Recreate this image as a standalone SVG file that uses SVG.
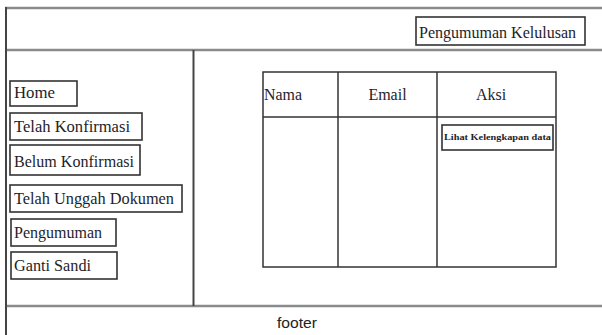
<svg xmlns="http://www.w3.org/2000/svg" width="602" height="335" viewBox="0 0 602 335">
  <style>
    .rule { stroke: #8a8a8a; stroke-width: 2.5; fill: none; }
    .edge { stroke: #444; stroke-width: 2; fill: none; }
    .btn { fill: #fff; stroke: #333; stroke-width: 1.6; }
    .grid { stroke: #333; stroke-width: 1.5; fill: none; }
    .lbl { font-family: "Liberation Serif", "Times New Roman", serif; font-size: 16px; fill: #1e1e2a; }
    .cap { font-family: "Liberation Serif", "Times New Roman", serif; font-size: 16px; fill: #1e1e2a; text-anchor: middle; }
    .tiny { font-family: "Liberation Serif", "Times New Roman", serif; font-size: 9px; font-weight: bold; fill: #1e1e2a; }
    .foot { font-family: "Liberation Sans", Arial, sans-serif; font-size: 14px; fill: #222; }
  </style>
  <rect width="602" height="335" fill="#fff"/>

  <!-- page frame: header, sidebar and footer rules -->
  <g id="layout">
    <line class="rule" x1="5" y1="8" x2="602" y2="8"/>
    <line class="rule" x1="5" y1="50" x2="602" y2="50"/>
    <line class="rule" x1="5" y1="306" x2="602" y2="306"/>
    <line class="edge" x1="6" y1="7" x2="6" y2="335"/>
    <line class="edge" x1="193.5" y1="50" x2="193.5" y2="306"/>
  </g>

  <g id="connectors"></g>

  <!-- header -->
  <g id="header-link">
    <rect class="btn" x="416" y="17" width="169" height="28"/>
    <text class="lbl" x="419" y="38" textLength="157" lengthAdjust="spacingAndGlyphs">Pengumuman Kelulusan</text>
  </g>

  <!-- sidebar menu -->
  <g id="menu-home">
    <rect class="btn" x="10" y="81" width="67" height="25"/>
    <text class="lbl" x="14" y="98" textLength="41" lengthAdjust="spacingAndGlyphs">Home</text>
  </g>
  <g id="menu-telah-konfirmasi">
    <rect class="btn" x="10" y="113" width="132" height="27"/>
    <text class="lbl" x="14" y="132" textLength="116" lengthAdjust="spacingAndGlyphs">Telah Konfirmasi</text>
  </g>
  <g id="menu-belum-konfirmasi">
    <rect class="btn" x="10" y="145" width="130" height="30"/>
    <text class="lbl" x="14" y="167" textLength="120" lengthAdjust="spacingAndGlyphs">Belum Konfirmasi</text>
  </g>
  <g id="menu-telah-unggah">
    <rect class="btn" x="10" y="185" width="172" height="27"/>
    <text class="lbl" x="14" y="204" textLength="160" lengthAdjust="spacingAndGlyphs">Telah Unggah Dokumen</text>
  </g>
  <g id="menu-pengumuman">
    <rect class="btn" x="11" y="219" width="105" height="27"/>
    <text class="lbl" x="14" y="238" textLength="88" lengthAdjust="spacingAndGlyphs">Pengumuman</text>
  </g>
  <g id="menu-ganti-sandi">
    <rect class="btn" x="11" y="252" width="106" height="27"/>
    <text class="lbl" x="14" y="271" textLength="77" lengthAdjust="spacingAndGlyphs">Ganti Sandi</text>
  </g>

  <!-- data table -->
  <g id="table">
    <rect class="grid" x="263" y="72" width="293" height="195"/>
    <line class="grid" x1="263" y1="117" x2="556" y2="117"/>
    <line class="grid" x1="338" y1="72" x2="338" y2="267"/>
    <line class="grid" x1="437" y1="72" x2="437" y2="267"/>
    <text class="lbl" x="264" y="100" textLength="38" lengthAdjust="spacingAndGlyphs">Nama</text>
    <text class="cap" x="387.5" y="100">Email</text>
    <text class="cap" x="491" y="100">Aksi</text>
  </g>
  <g id="btn-lihat">
    <rect class="btn" x="442" y="125" width="111" height="25"/>
    <text class="tiny" x="444" y="140" textLength="107" lengthAdjust="spacingAndGlyphs">Lihat Kelengkapan data</text>
  </g>

  <!-- footer -->
  <g id="footer">
    <text class="foot" x="277" y="328" textLength="40" lengthAdjust="spacingAndGlyphs">footer</text>
  </g>
</svg>
